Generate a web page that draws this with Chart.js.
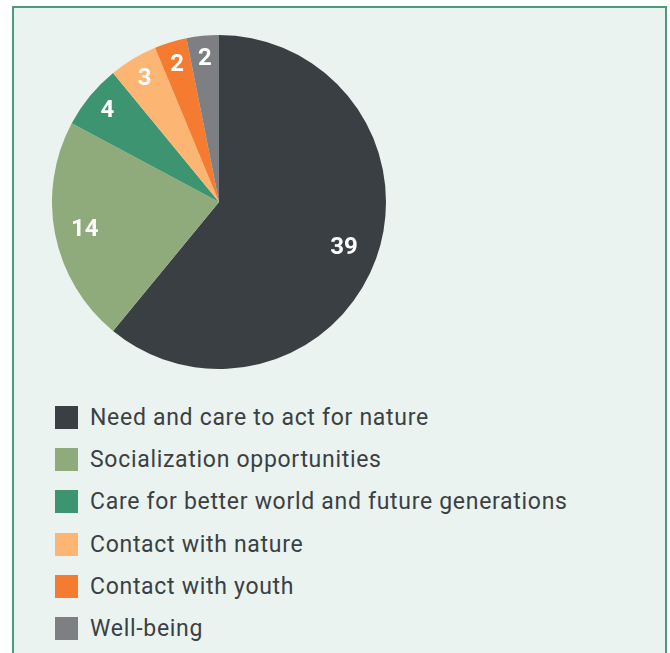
<!DOCTYPE html>
<html lang="en">
<head>
    <meta charset="UTF-8">
    <title>Motivations pie chart</title>
    <script src="https://cdn.jsdelivr.net/npm/chart.js"></script>
    <style>
        body {
            margin: 0;
            background: #fff;
            font-family: Roboto, "Noto Sans", sans-serif;
        }
        .panel {
            position: absolute;
            left: 12px;
            top: 6px;
            width: 651px;
            height: 660px;
            background: #eaf3ef;
            border: 2px solid #4b9b7a;
            border-bottom: none;
        }
        .pie-wrap {
            position: absolute;
            left: 38px;
            top: 27px;
            width: 334px;
            height: 334px;
        }
        .legend {
            position: absolute;
            left: 41px;
            top: 388px;
            margin: 0;
            padding: 0;
            list-style: none;
        }
        .legend li {
            height: 42.3px;
            display: flex;
            align-items: center;
            font-size: 23px;
            letter-spacing: 0.7px;
            color: #3b4044;
            white-space: nowrap;
        }
        .legend span {
            display: inline-block;
            width: 23px;
            height: 23px;
            margin-right: 12px;
            flex: none;
        }
    </style>
</head>
<body>

<div class="panel">
    <div class="pie-wrap"><canvas id="myChart"></canvas></div>
    <ul class="legend" id="legend"></ul>
</div>

<script>
    const categories = [
        'Need and care to act for nature',
        'Socialization opportunities',
        'Care for better world and future generations',
        'Contact with nature',
        'Contact with youth',
        'Well-being'
    ];
    const counts = [39, 14, 4, 3, 2, 2];
    const colors = ['#3a3f44', '#8faa7b', '#3d9470', '#fdb574', '#f47b30', '#7e7f83'];

    // white numbers inside the slices, small slices pushed a bit further out
    const sliceLabels = {
        id: 'sliceLabels',
        afterDatasetsDraw(chart) {
            const ctx = chart.ctx;
            const meta = chart.getDatasetMeta(0);
            const total = counts.reduce((a, b) => a + b, 0);
            ctx.save();
            ctx.fillStyle = '#fff';
            ctx.font = 'bold 24px Roboto, sans-serif';
            ctx.textAlign = 'center';
            ctx.textBaseline = 'middle';
            meta.data.forEach((arc, i) => {
                const mid = (arc.startAngle + arc.endAngle) / 2;
                const share = counts[i] / total;
                const f = share > 0.5 ? 0.795 : share > 0.1 ? 0.82 : 0.865;
                const r = arc.outerRadius * f;
                ctx.fillText(counts[i], arc.x + Math.cos(mid) * r, arc.y + Math.sin(mid) * r + 1);
            });
            ctx.restore();
        }
    };

    const ctx = document.getElementById('myChart').getContext('2d');
    const myChart = new Chart(ctx, {
        type: 'pie',
        data: {
            labels: categories,
            datasets: [{
                data: counts,
                backgroundColor: colors,
                borderWidth: 0
            }]
        },
        options: {
            responsive: true,
            maintainAspectRatio: false,
            animation: false,
            layout: { padding: 0 },
            plugins: {
                legend: { display: false },
                tooltip: { enabled: false }
            }
        },
        plugins: [sliceLabels]
    });

    const legend = document.getElementById('legend');
    categories.forEach((name, i) => {
        const li = document.createElement('li');
        const box = document.createElement('span');
        box.style.background = colors[i];
        li.appendChild(box);
        li.appendChild(document.createTextNode(name));
        legend.appendChild(li);
    });
</script>

</body>
</html>
